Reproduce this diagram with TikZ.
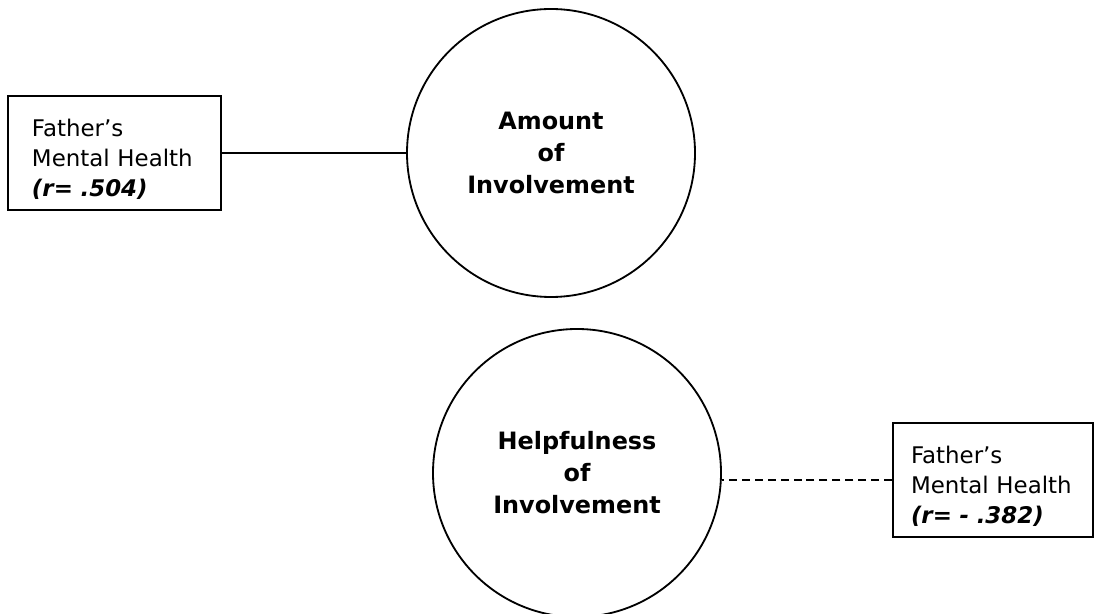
\documentclass[tikz,border=0pt]{standalone}
\usepackage{fontspec}
\setmainfont{DejaVu Sans}
\newcommand{\rval}[1]{{\bfseries\itshape (r= #1)}}

\begin{document}
\begin{tikzpicture}[
		factor/.style={circle, draw, line width=1.3pt, minimum size=7.2cm, align=center, font=\fontsize{17}{22.8}\selectfont\bfseries},
		fmhbox/.style={rectangle, draw, line width=1.3pt, align=left, inner ysep=0pt, minimum height=2.85cm, font=\fontsize{16.3}{21.3}\selectfont}
	]
				\useasboundingbox (0,0) rectangle (27.4,15.325);
				\node[factor] (amt) at (13.775,11.5) {Amount\\of\\Involvement};
				\node[factor] (hlp) at (14.425,3.5) {Helpfulness\\of\\Involvement};
				\node[fmhbox, inner xsep=0.6cm, text width=4.125cm] (fmh1) at (2.8625,11.5) {\rule{0pt}{0.74cm}Father’s\\Mental Health\\\rval{.504}};
				\node[fmhbox, inner xsep=0.45cm, text width=4.1cm] (fmh2) at (24.825,3.325) {\rule{0pt}{0.74cm}Father’s\\Mental Health\\\rval{- .382}};

				\draw[line width=1.3pt] (fmh1) -- (amt);
				\draw[line width=1.3pt, dash pattern=on 5.7pt off 3.5pt] (fmh2.west) -- (fmh2.west -| hlp.east);
			\end{tikzpicture}
\end{document}
